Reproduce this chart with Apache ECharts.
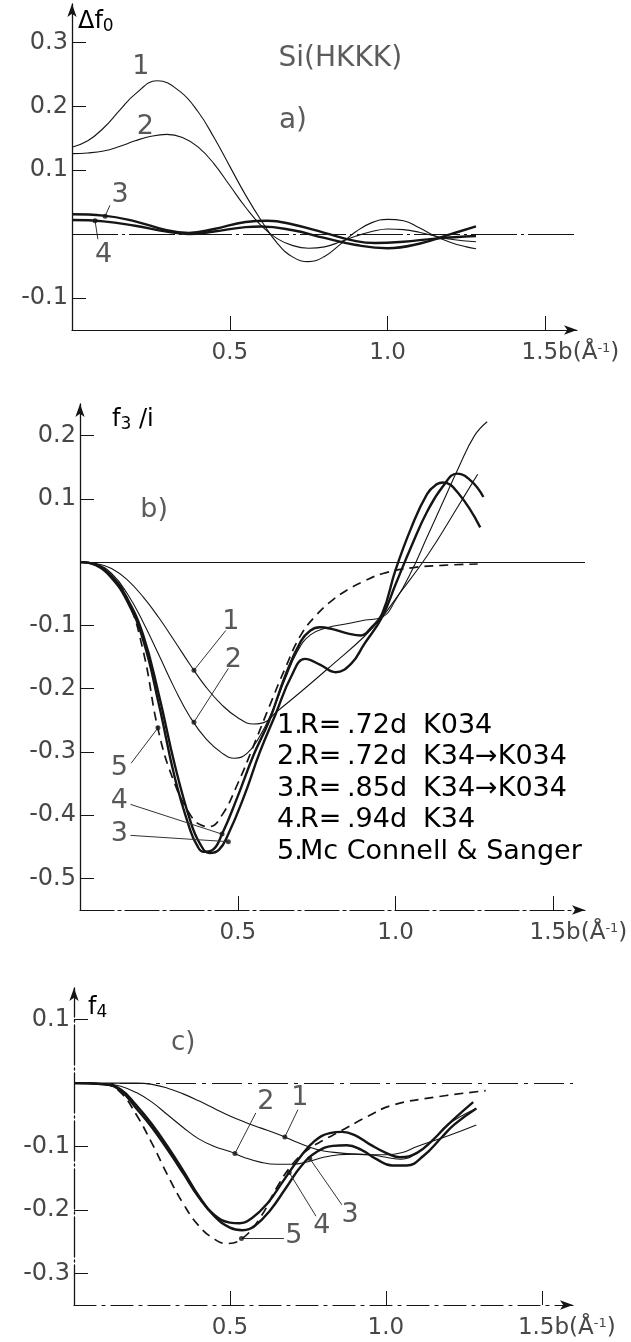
<!DOCTYPE html>
<html>
<head>
<meta charset="utf-8">
<script src="https://cdn.jsdelivr.net/npm/echarts@6/dist/echarts.min.js"></script>
<style>
  html, body { margin: 0; padding: 0; background: #fff; }
  #chart { width: 631px; height: 1342px; }
</style>
</head>
<body>
<div id="chart"></div>
<script>
// ---------- tick values ----------
const xTicks = [0.5, 1.0, 1.5];
const yTicksA = [-0.1, 0.1, 0.2, 0.3];
const yTicksB = [-0.5, -0.4, -0.3, -0.2, -0.1, 0.1, 0.2];
const yTicksC = [-0.3, -0.2, -0.1, 0.1];

// ---------- a) Δf0 for Si(HKKK), [b, value] ----------
const a1 = [[0,0.136],[0.05,0.146],[0.1,0.166],[0.15,0.193],[0.2,0.219],[0.27,0.240],[0.34,0.224],[0.4,0.191],[0.45,0.151],[0.5,0.106],[0.55,0.061],[0.6,0.021],[0.65,-0.014],[0.7,-0.036],[0.75,-0.043],[0.8,-0.035],[0.85,-0.016],[0.9,0.004],[0.95,0.018],[1.0,0.023],[1.05,0.021],[1.1,0.010],[1.15,-0.003],[1.2,-0.013],[1.25,-0.020],[1.28,-0.023]];
const a2 = [[0,0.126],[0.05,0.127],[0.1,0.130],[0.15,0.137],[0.2,0.146],[0.25,0.153],[0.3,0.156],[0.35,0.151],[0.4,0.136],[0.45,0.110],[0.5,0.076],[0.55,0.042],[0.6,0.013],[0.65,-0.007],[0.7,-0.018],[0.75,-0.022],[0.8,-0.020],[0.85,-0.012],[0.9,-0.003],[0.95,0.004],[1.0,0.008],[1.05,0.007],[1.1,0.003],[1.15,-0.003],[1.2,-0.008],[1.28,-0.012]];
const a3 = [[0,0.031],[0.1,0.029],[0.2,0.020],[0.3,0.006],[0.37,0.002],[0.45,0.008],[0.55,0.019],[0.62,0.021],[0.7,0.015],[0.8,0.002],[0.9,-0.011],[0.96,-0.014],[1.05,-0.012],[1.15,-0.007],[1.28,-0.003]];
const a4 = [[0,0.022],[0.1,0.020],[0.2,0.013],[0.3,0.004],[0.37,0.000],[0.45,0.004],[0.55,0.011],[0.6,0.012],[0.7,0.006],[0.8,-0.006],[0.9,-0.017],[1.0,-0.022],[1.1,-0.015],[1.2,0.000],[1.28,0.012]];

// ---------- b) f3/i ----------
const b1 = [[0,0],[0.05,-0.002],[0.1,-0.010],[0.15,-0.028],[0.2,-0.055],[0.25,-0.088],[0.3,-0.125],[0.35,-0.163],[0.4,-0.198],[0.45,-0.226],[0.5,-0.246],[0.55,-0.256],[0.59,-0.252],[0.62,-0.238],[0.7,-0.205],[0.8,-0.162],[0.9,-0.118],[0.957,-0.087],[1.0,-0.058],[1.1,0.010],[1.2,0.090],[1.26,0.139]];
const b2 = [[0,0],[0.05,-0.003],[0.1,-0.018],[0.15,-0.050],[0.2,-0.095],[0.25,-0.147],[0.3,-0.200],[0.35,-0.246],[0.4,-0.280],[0.45,-0.302],[0.49,-0.310],[0.53,-0.302],[0.57,-0.275],[0.61,-0.235],[0.65,-0.185],[0.69,-0.140],[0.73,-0.115],[0.78,-0.104],[0.85,-0.097],[0.9,-0.092],[0.957,-0.087],[1.0,-0.060],[1.05,-0.015],[1.1,0.040],[1.15,0.095],[1.2,0.150],[1.25,0.200],[1.29,0.222]];
const b3 = [[0,0],[0.05,-0.004],[0.1,-0.022],[0.15,-0.058],[0.2,-0.115],[0.25,-0.210],[0.3,-0.320],[0.35,-0.410],[0.38,-0.445],[0.41,-0.460],[0.44,-0.455],[0.47,-0.430],[0.52,-0.370],[0.57,-0.300],[0.62,-0.240],[0.67,-0.180],[0.713,-0.153],[0.76,-0.162],[0.81,-0.174],[0.86,-0.160],[0.9,-0.130],[0.957,-0.087],[1.0,-0.035],[1.05,0.025],[1.1,0.080],[1.15,0.120],[1.195,0.140],[1.24,0.128],[1.278,0.103]];
const b4 = [[0,0],[0.05,-0.005],[0.1,-0.025],[0.15,-0.062],[0.2,-0.123],[0.25,-0.225],[0.3,-0.340],[0.35,-0.425],[0.37,-0.447],[0.39,-0.458],[0.42,-0.455],[0.45,-0.430],[0.5,-0.370],[0.55,-0.305],[0.6,-0.250],[0.65,-0.180],[0.7,-0.125],[0.73,-0.108],[0.76,-0.103],[0.8,-0.106],[0.85,-0.113],[0.89,-0.116],[0.92,-0.105],[0.957,-0.082],[1.0,-0.012],[1.05,0.055],[1.1,0.108],[1.13,0.123],[1.15,0.126],[1.2,0.108],[1.268,0.055]];
const b5 = [[0,0],[0.05,-0.004],[0.1,-0.022],[0.15,-0.058],[0.2,-0.140],[0.25,-0.270],[0.3,-0.350],[0.35,-0.400],[0.38,-0.415],[0.41,-0.418],[0.45,-0.400],[0.5,-0.350],[0.55,-0.290],[0.6,-0.228],[0.65,-0.168],[0.7,-0.115],[0.75,-0.083],[0.8,-0.060],[0.85,-0.043],[0.9,-0.030],[0.96,-0.018],[1.05,-0.009],[1.15,-0.005],[1.26,-0.003]];

// ---------- c) f4 ----------
const c1 = [[0,0],[0.2,0],[0.25,-0.002],[0.3,-0.008],[0.35,-0.017],[0.4,-0.028],[0.45,-0.040],[0.5,-0.052],[0.55,-0.062],[0.6,-0.071],[0.65,-0.080],[0.7,-0.090],[0.75,-0.100],[0.8,-0.107],[0.85,-0.110],[0.9,-0.112],[0.95,-0.113],[1.0,-0.113],[1.05,-0.110],[1.1,-0.100],[1.2,-0.083],[1.29,-0.066]];
const c2 = [[0,0],[0.1,-0.001],[0.15,-0.005],[0.2,-0.015],[0.25,-0.030],[0.3,-0.050],[0.35,-0.070],[0.4,-0.088],[0.45,-0.100],[0.5,-0.108],[0.55,-0.118],[0.6,-0.125],[0.65,-0.128],[0.7,-0.128],[0.75,-0.124],[0.8,-0.117],[0.85,-0.113],[0.9,-0.112],[0.95,-0.113],[1.0,-0.117],[1.05,-0.120],[1.1,-0.110],[1.15,-0.090],[1.2,-0.065],[1.29,-0.040]];
const c3 = [[0,0],[0.1,-0.002],[0.15,-0.010],[0.2,-0.035],[0.25,-0.065],[0.3,-0.100],[0.35,-0.138],[0.4,-0.178],[0.45,-0.210],[0.5,-0.228],[0.54,-0.232],[0.58,-0.225],[0.63,-0.200],[0.68,-0.165],[0.73,-0.130],[0.78,-0.108],[0.83,-0.099],[0.875,-0.098],[0.92,-0.105],[0.97,-0.120],[1.02,-0.130],[1.067,-0.130],[1.12,-0.115],[1.18,-0.085],[1.22,-0.065],[1.29,-0.040]];
const c4 = [[0,0],[0.1,-0.002],[0.15,-0.012],[0.2,-0.040],[0.25,-0.070],[0.3,-0.105],[0.35,-0.142],[0.4,-0.180],[0.45,-0.208],[0.5,-0.220],[0.53,-0.221],[0.57,-0.213],[0.62,-0.190],[0.67,-0.155],[0.72,-0.120],[0.77,-0.092],[0.82,-0.079],[0.86,-0.077],[0.9,-0.082],[0.95,-0.097],[1.0,-0.110],[1.045,-0.117],[1.1,-0.110],[1.15,-0.090],[1.2,-0.065],[1.28,-0.030]];
const c5 = [[0,0],[0.1,-0.002],[0.15,-0.015],[0.2,-0.050],[0.25,-0.095],[0.3,-0.145],[0.35,-0.190],[0.4,-0.225],[0.45,-0.246],[0.49,-0.253],[0.54,-0.245],[0.6,-0.210],[0.65,-0.165],[0.7,-0.128],[0.75,-0.105],[0.8,-0.090],[0.85,-0.077],[0.94,-0.053],[1.02,-0.035],[1.16,-0.022],[1.32,-0.012]];

// ---------- curve numbers, marker dots and leader lines ----------
const numbersA = [['1',0.218,0.262],['2',0.232,0.167],['3',0.152,0.061],['4',0.10,-0.032]];
const dotsA = [[0.105,0.028],[0.073,0.021]];
const leadersA = [[[0.12,0.045],[0.105,0.028]],[[0.082,-0.008],[0.073,0.021]]];

const numbersB = [['1',0.478,-0.095],['2',0.486,-0.155],['5',0.125,-0.326],['4',0.125,-0.378],['3',0.125,-0.43]];
const dotsB = [[0.361,-0.171],[0.361,-0.253],[0.247,-0.262],[0.45,-0.430],[0.47,-0.442]];
const leadersB = [[[0.462,-0.108],[0.361,-0.171]],[[0.47,-0.168],[0.361,-0.253]],[[0.162,-0.318],[0.247,-0.262]],[[0.16,-0.383],[0.45,-0.430]],[[0.16,-0.432],[0.47,-0.442]]];

const numbersC = [['2',0.615,-0.029],['1',0.724,-0.024],['5',0.705,-0.241],['4',0.795,-0.226],['3',0.885,-0.208]];
const dotsC = [[0.516,-0.111],[0.676,-0.085],[0.537,-0.245],[0.69,-0.141],[0.756,-0.119]];
const leadersC = [[[0.583,-0.047],[0.516,-0.111]],[[0.718,-0.042],[0.676,-0.085]],[[0.673,-0.245],[0.537,-0.245]],[[0.776,-0.21],[0.69,-0.141]],[[0.859,-0.192],[0.756,-0.119]]];

// panel captions [text, b, value]
const captionsA = [['Si(HKKK)',0.85,0.275],['a)',0.70,0.178]];
const captionsB = [['b)',0.235,0.082]];
const captionsC = [['c)',0.35,0.063]];

// legend of panel b
const legendNums = ['1.', '2.', '3.', '4.', '5.'];
const legendR = ['.72d', '.72d', '.85d', '.94d', ''];
const legendRef = ['K034', 'K34\u2192K034', 'K34\u2192K034', 'K34', 'Mc Connell & Sanger'];

// ---------- styling ----------
const FONT = "'DejaVu Sans', 'Liberation Sans', sans-serif";
const INK = '#151515';
const TXT = '#474747';
const NUM = '#2e2e2e';
const thin = { width: 1.1, color: INK };
const thick = { width: 2.4, color: INK };
const dashed = { width: 1.7, color: INK, type: [9, 6] };

const grids = [
  { left: 72, top: 4, width: 505, height: 326 },
  { left: 80, top: 404, width: 505, height: 506 },
  { left: 74, top: 988, width: 499, height: 317 }
];
const yRange = [[-0.15, 0.36], [-0.55, 0.25], [-0.35, 0.15]];
const yTickSets = [yTicksA, yTicksB, yTicksC];
const xLineType = ['solid', [34, 4, 3, 4], [22, 6, 3, 6]];
const yLineType = ['solid', 'solid', [40, 3, 2, 3]];
const zeroType = [[46, 4, 3, 4], 'solid', [30, 6, 4, 6]];

const labelRich = {
  sp: { width: 50 },
  n: { fontFamily: FONT, fontSize: 23, color: TXT },
  u: { fontFamily: FONT, fontSize: 23, color: TXT },
  sup: { fontFamily: FONT, fontSize: 13, color: TXT, verticalAlign: 'top', padding: [0, 0, 10, 0] }
};

const xAxes = grids.map((g, i) => ({
  type: 'value', gridIndex: i, min: 0, max: 1.6,
  axisLine: { show: true, onZero: false, symbol: ['none', 'arrow'], symbolSize: [7, 13],
    lineStyle: { color: INK, width: 1.2, type: xLineType[i] } },
  axisTick: { show: true, inside: true, length: 14, customValues: xTicks, lineStyle: { color: INK, width: 1 } },
  axisLabel: {
    show: true, customValues: xTicks, margin: 12,
    fontFamily: FONT, fontSize: 23, color: TXT,
    formatter: v => v === 1.5 ? '{sp|}{n|1.5}{u|b(Å}{sup|-1}{u|)}' : v.toFixed(1),
    rich: labelRich
  },
  splitLine: { show: false }
}));

const yAxes = grids.map((g, i) => ({
  type: 'value', gridIndex: i, min: yRange[i][0], max: yRange[i][1],
  axisLine: { show: true, onZero: false, symbol: ['none', 'arrow'], symbolSize: [7, 13],
    lineStyle: { color: INK, width: 1.3, type: yLineType[i] } },
  axisTick: { show: true, inside: true, length: 14, customValues: yTickSets[i], lineStyle: { color: INK, width: 1 } },
  axisLabel: { show: true, customValues: yTickSets[i], margin: 4, fontFamily: FONT, fontSize: 24, color: TXT,
    formatter: v => v.toFixed(1) },
  splitLine: { show: false }
}));

function curve(gi, data, style) {
  return { type: 'line', xAxisIndex: gi, yAxisIndex: gi, data, smooth: 0.45, symbol: 'none',
    lineStyle: style, silent: true, z: 3 };
}
function zeroLine(gi) {
  return { type: 'line', xAxisIndex: gi, yAxisIndex: gi, data: [], symbol: 'none', silent: true,
    markLine: { symbol: 'none', silent: true, label: { show: false },
      lineStyle: { color: INK, width: 1, type: zeroType[gi] }, data: [{ yAxis: 0 }] } };
}
function texts(gi, list, size, color) {
  return { type: 'scatter', xAxisIndex: gi, yAxisIndex: gi, symbolSize: 0, silent: true, z: 5,
    data: list.map(t => ({ name: t[0], value: [t[1], t[2]] })),
    label: { show: true, position: 'inside', formatter: '{b}', fontFamily: FONT, fontSize: size, color } };
}
function dots(gi, list) {
  return { type: 'scatter', xAxisIndex: gi, yAxisIndex: gi, symbolSize: 5, silent: true, z: 6,
    itemStyle: { color: INK }, data: list };
}
function leaders(gi, list) {
  return { type: 'lines', coordinateSystem: 'cartesian2d', xAxisIndex: gi, yAxisIndex: gi, silent: true, z: 4,
    lineStyle: { color: '#333', width: 1, opacity: 1 }, data: list.map(c => ({ coords: c })) };
}

const series = [
  zeroLine(0), zeroLine(1), zeroLine(2),
  curve(0, a1, thin), curve(0, a2, thin), curve(0, a3, thick), curve(0, a4, thick),
  curve(1, b1, thin), curve(1, b2, thin), curve(1, b3, thick), curve(1, b4, thick), curve(1, b5, dashed),
  curve(2, c1, thin), curve(2, c2, thin), curve(2, c3, thick), curve(2, c4, thick), curve(2, c5, dashed),
  texts(0, numbersA, 27, NUM), texts(1, numbersB, 27, NUM), texts(2, numbersC, 27, NUM),
  texts(0, captionsA, 28, '#333'), texts(1, captionsB, 27, '#333'), texts(2, captionsC, 26, '#333'),
  dots(0, dotsA), dots(1, dotsB), dots(2, dotsC),
  leaders(0, leadersA), leaders(1, leadersB), leaders(2, leadersC)
];

// axis names and legend block
const rich = {
  m: { fontFamily: FONT, fontSize: 24, color: TXT },
  s: { fontFamily: FONT, fontSize: 17, color: TXT, verticalAlign: 'bottom', padding: [10, 0, 0, 0] },
  n: { fontFamily: FONT, fontSize: 27, color: '#222', width: 23 },
  r: { fontFamily: FONT, fontSize: 27, color: '#222', width: 47 },
  v: { fontFamily: FONT, fontSize: 27, color: '#222', width: 76 },
  d: { fontFamily: FONT, fontSize: 27, color: '#222' }
};
const graphic = [
  { type: 'text', left: 78, top: 10, style: { text: '{m|Δf}{s|0}', rich } },
  { type: 'text', left: 112, top: 408, style: { text: '{m|f}{s|3}{m| /i}', rich } },
  { type: 'text', left: 88, top: 996, style: { text: '{m|f}{s|4}', rich } }
];
legendNums.forEach((num, i) => {
  const body = legendR[i] ? '{r|R=}{v|' + legendR[i] + '}{d|' + legendRef[i] + '}' : '{d|' + legendRef[i] + '}';
  graphic.push({ type: 'text', left: 277, top: 712 + i * 31.5, style: { text: '{n|' + num + '}' + body, rich } });
});

const chart = echarts.init(document.getElementById('chart'), null, { renderer: 'canvas' });
chart.setOption({
  animation: false,
  backgroundColor: '#fff',
  grid: grids.map(g => Object.assign({ containLabel: false, outerBoundsMode: 'none' }, g)),
  xAxis: xAxes,
  yAxis: yAxes,
  series,
  graphic
});
</script>
</body>
</html>
